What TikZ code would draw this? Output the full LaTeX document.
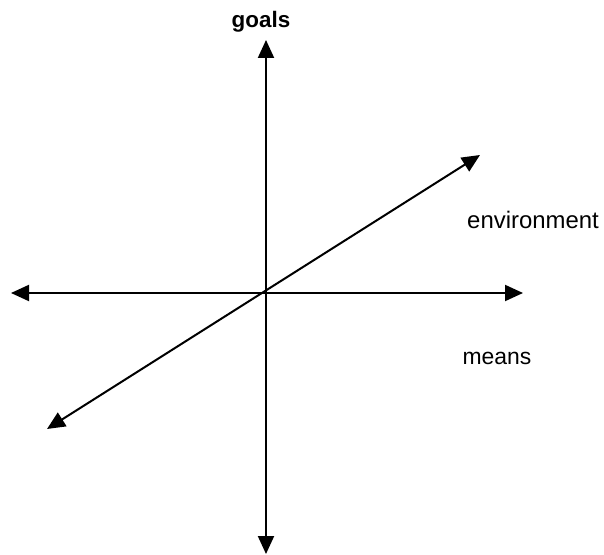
\documentclass[tikz,border=0pt]{standalone}
\usepackage{fontspec}
\setmainfont{Liberation Sans}
\usetikzlibrary{arrows.meta}
\begin{document}
\begin{tikzpicture}[x=1bp,y=-1bp,
  axis/.style={line width=2bp,{Triangle[length=18bp,width=16bp]}-{Triangle[length=18bp,width=16bp]}},
  lbl/.style={font=\fontsize{23}{27}\selectfont, inner sep=0pt}]
\useasboundingbox (0,0) rectangle (604,555);
\coordinate (top) at (266,40);
\coordinate (bot) at (266,554);
\coordinate (left) at (11,293);
\coordinate (right) at (523,293);
\coordinate (ll) at (47,429);
\coordinate (ur) at (480,155);
\draw[axis] (bot) -- (top);
\draw[axis] (left) -- (right);
\draw[axis] (ll) -- (ur);
\node[lbl, font=\fontsize{22.5}{26}\selectfont\bfseries] (goals) at (261,22) {goals};
\node[lbl, font=\fontsize{24}{28}\selectfont] (env) at (533,220) {environment};
\node[lbl] (means) at (497,358) {means};
\end{tikzpicture}
\end{document}
